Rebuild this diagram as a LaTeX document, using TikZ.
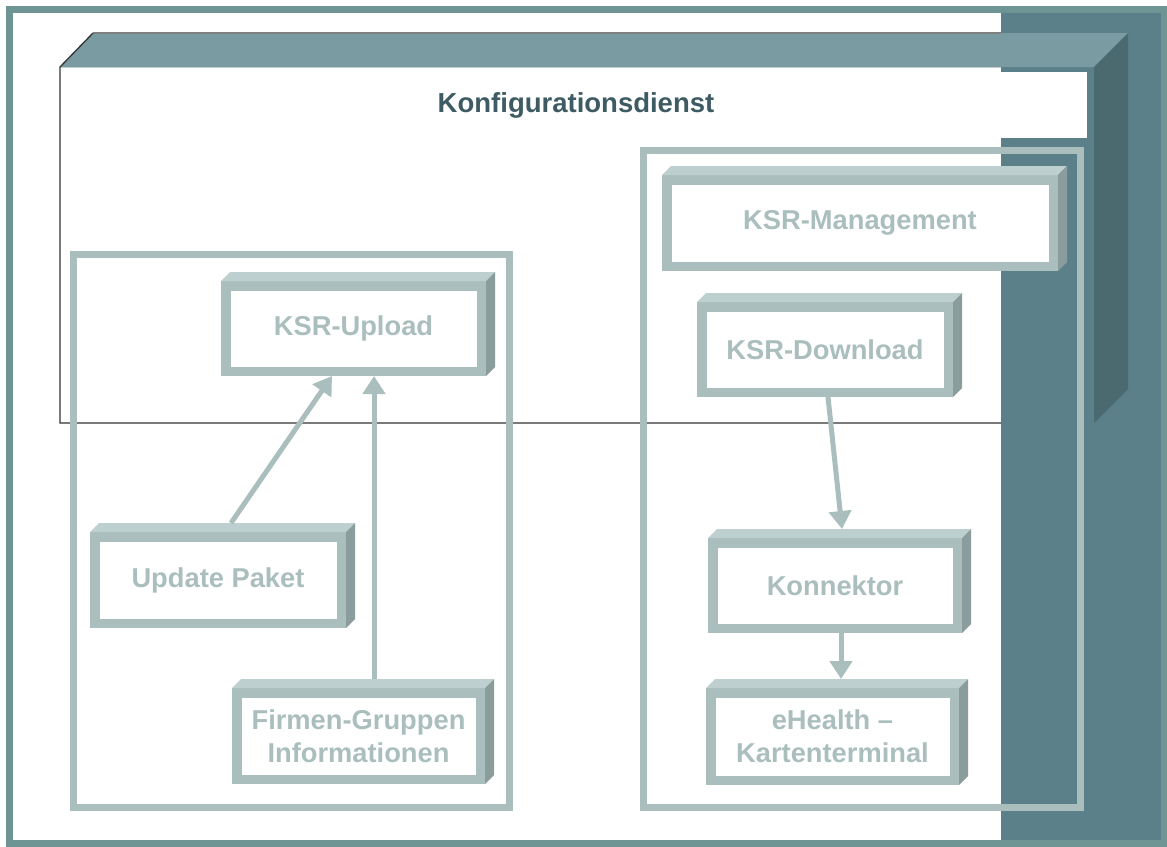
\documentclass[tikz,border=0pt]{standalone}
\usepackage{fontspec}
\setmainfont{Liberation Sans}
\usetikzlibrary{arrows.meta,calc}
\definecolor{frameC}{HTML}{6E9494}
\definecolor{tealC}{HTML}{5B808A}
\definecolor{topBig}{HTML}{7B9BA2}
\definecolor{sideBig}{HTML}{4A6A70}
\definecolor{titleC}{HTML}{3E5B63}
\definecolor{boxC}{HTML}{AABFBD}
\definecolor{boxTop}{HTML}{BDCFCF}
\definecolor{boxSide}{HTML}{8A9C9B}
\newcommand{\cubefaces}[1]{%
  \fill[boxTop] (#1.north west) -- ++(9,-9) -- ($(#1.north east)+(9,-9)$) -- (#1.north east) -- cycle;
  \fill[boxSide] (#1.north east) -- ++(9,-9) -- ($(#1.south east)+(9,-9)$) -- (#1.south east) -- cycle;}
\tikzset{
  cube/.style={draw=boxC, line width=9.5pt, fill=white, inner sep=0pt, outer sep=4.75pt,
    text=boxC, align=center, font=\bfseries\fontsize{27.3}{33}\selectfont},
  cont/.style={draw=boxC, line width=7pt},
  arr/.style={draw=boxC, line width=5pt, -{Triangle[length=18pt,width=22pt]}},
  titlestyle/.style={text=titleC, font=\bfseries\fontsize{27.5}{33}\selectfont}
}
\begin{document}
\begin{tikzpicture}[x=1pt,y=-1pt]
\useasboundingbox (0,0) rectangle (1167,846);
\fill[white] (0,0) rectangle (1167,846);
% right teal band
\fill[tealC] (1001,13) rectangle (1162,842);
% outer frame
\draw[frameC, line width=7pt] (9.5,9.5) rectangle (1164.5,843.5);
% big 3D box
\fill[topBig] (60,67) -- (93,33) -- (1128,33) -- (1094,67) -- cycle;
\fill[sideBig] (1094,67) -- (1128,33) -- (1128,389) -- (1094,423) -- cycle;
\fill[white] (1001,72) rectangle (1087,138);
\draw[gray, line width=1.5pt] (93,33) -- (1001,33);
\draw[boxTop, line width=1pt] (61,67.5) -- (1001,67.5);
\draw[black!80, line width=1.3pt] (93,33) -- (60,67) -- (60,423) -- (1001,423);
\node[titlestyle] (title) at (576,105) {Konfigurationsdienst};
% containers
\draw[cont] (73.5,254.5) rectangle (509,807);
\draw[cont] (643.5,150.5) rectangle (1080.5,807);
% boxes
\node[cube, minimum width=255.5pt, minimum height=85.5pt] (upload) at (353.5,328.5) {KSR-Upload};
\cubefaces{upload}
\node[cube, minimum width=246.5pt, minimum height=86.5pt] (pak) at (218,580) {Update Paket};
\cubefaces{pak}
\node[cube, minimum width=243.5pt, minimum height=86.5pt] (firmen) at (358.5,736) {Firmen-Gruppen\\Informationen};
\cubefaces{firmen}
\node[cube, minimum width=386.5pt, minimum height=86.5pt] (mgmt) at (860,223) {KSR-Management};
\cubefaces{mgmt}
\node[cube, minimum width=246.5pt, minimum height=85.5pt] (down) at (825,349.5) {KSR-Download};
\cubefaces{down}
\node[cube, minimum width=244.5pt, minimum height=85.5pt] (konn) at (835,585.5) {Konnektor};
\cubefaces{konn}
\node[cube, minimum width=243.5pt, minimum height=87.5pt] (eh) at (832.5,736.5) {eHealth --\\Kartenterminal};
\cubefaces{eh}
% connectors
\draw[arr] ($(pak.north west)+(141,-9)$) -- ($(upload.south west)+(111,0)$);
\draw[arr] ($(firmen.north west)+(142,-9)$) -- ($(upload.south west)+(153,0)$);
\draw[arr] ($(down.south west)+(131,0)$) -- ($(konn.north west)+(134,-9)$);
\draw[arr] ($(konn.south west)+(133,0)$) -- ($(eh.north west)+(135,-9)$);
\end{tikzpicture}
\end{document}
